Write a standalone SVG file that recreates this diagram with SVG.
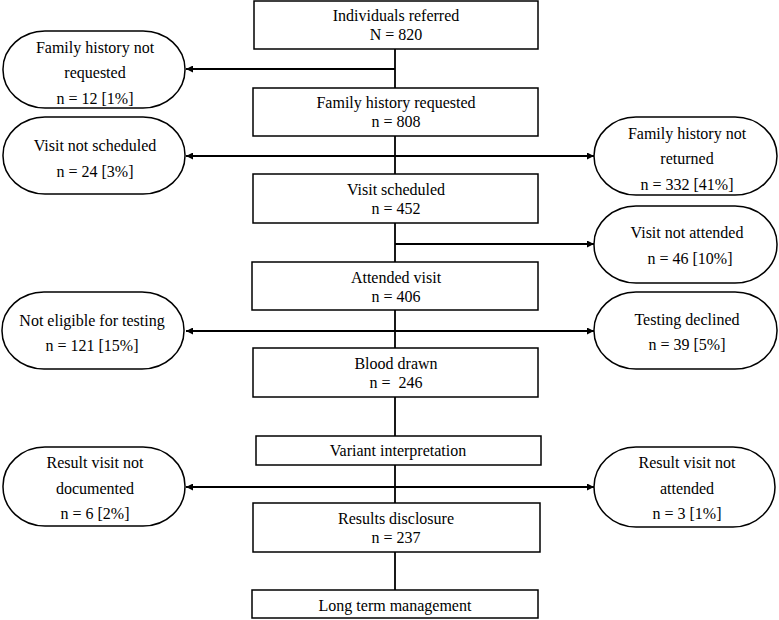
<svg xmlns="http://www.w3.org/2000/svg" width="779" height="620" viewBox="0 0 779 620">
<defs>
<marker id="ah" viewBox="0 0 10 10" refX="10" refY="5" markerWidth="7" markerHeight="7" markerUnits="userSpaceOnUse" orient="auto">
<path d="M0,0 L10,5 L0,10 z" fill="#000"/>
</marker>
<style>
.box{fill:#fff;stroke:#000;stroke-width:1.5}
.rnd{fill:#fff;stroke:#000;stroke-width:1.5}
text{font-family:'Liberation Serif','Times New Roman',serif;font-size:16px;fill:#000;text-anchor:middle}
.ln{stroke:#000;stroke-width:1.8;fill:none}
.ar{stroke:#000;stroke-width:1.8;fill:none;marker-end:url(#ah)}
</style>
</defs>
<rect width="779" height="620" fill="#fff"/>
<g id="connectors">
<line class="ln" x1="395" y1="49" x2="395" y2="590"/>
<line class="ar" x1="395" y1="69" x2="186" y2="69"/>
<line class="ar" x1="395" y1="156" x2="186" y2="156"/>
<line class="ar" x1="395" y1="156" x2="594" y2="156"/>
<line class="ar" x1="395" y1="244" x2="594" y2="244"/>
<line class="ar" x1="395" y1="331" x2="186" y2="331"/>
<line class="ar" x1="395" y1="331" x2="594" y2="331"/>
<line class="ar" x1="395" y1="487" x2="186" y2="487"/>
<line class="ar" x1="395" y1="487" x2="594" y2="487"/>
</g>
<g id="n1"><rect class="box" x="254" y="1" width="284" height="48"/><text x="396" y="21">Individuals referred</text><text x="396" y="40">N = 820</text></g>
<g id="n2"><rect class="box" x="253" y="88" width="285" height="48"/><text x="396" y="108">Family history requested</text><text x="396" y="127">n = 808</text></g>
<g id="n3"><rect class="box" x="253" y="174" width="285" height="49"/><text x="396" y="195">Visit scheduled</text><text x="396" y="214">n = 452</text></g>
<g id="n4"><rect class="box" x="252" y="262" width="286" height="48"/><text x="396" y="283">Attended visit</text><text x="396" y="302">n = 406</text></g>
<g id="n5"><rect class="box" x="253" y="348" width="285" height="49"/><text x="396" y="369">Blood drawn</text><text x="396" y="388" xml:space="preserve">n =  246</text></g>
<g id="n6"><rect class="box" x="256" y="436" width="285" height="29"/><text x="398" y="456">Variant interpretation</text></g>
<g id="n7"><rect class="box" x="253" y="503" width="287" height="49"/><text x="396" y="524">Results disclosure</text><text x="396" y="543">n = 237</text></g>
<g id="n8"><rect class="box" x="252" y="590" width="286" height="28"/><text x="395" y="611">Long term management</text></g>
<g id="e1"><rect class="rnd" x="3" y="31" width="182" height="77" rx="42" ry="38"/><text x="95" y="53">Family history not</text><text x="95" y="78">requested</text><text x="95" y="104">n = 12 [1%]</text></g>
<g id="e2"><rect class="rnd" x="3" y="117" width="182" height="77" rx="42" ry="38"/><text x="95" y="151">Visit not scheduled</text><text x="95" y="177">n = 24 [3%]</text></g>
<g id="e3"><rect class="rnd" x="594" y="117" width="183" height="78" rx="42" ry="39"/><text x="687" y="139">Family history not</text><text x="687" y="164">returned</text><text x="687" y="190">n = 332 [41%]</text></g>
<g id="e4"><rect class="rnd" x="594" y="206" width="183" height="77" rx="42" ry="38"/><text x="687" y="238">Visit not attended</text><text x="690" y="264">n = 46 [10%]</text></g>
<g id="e5"><rect class="rnd" x="2" y="292" width="182" height="77" rx="42" ry="38"/><text x="92" y="326">Not eligible for testing</text><text x="92" y="351">n = 121 [15%]</text></g>
<g id="e6"><rect class="rnd" x="594" y="292" width="183" height="77" rx="42" ry="38"/><text x="687" y="325">Testing declined</text><text x="687" y="350">n = 39 [5%]</text></g>
<g id="e7"><rect class="rnd" x="3" y="447" width="182" height="79" rx="42" ry="39"/><text x="95" y="468">Result visit not</text><text x="95" y="494">documented</text><text x="95" y="519">n = 6 [2%]</text></g>
<g id="e8"><rect class="rnd" x="594" y="447" width="181" height="80" rx="42" ry="40"/><text x="687" y="468">Result visit not</text><text x="687" y="494">attended</text><text x="687" y="519">n = 3 [1%]</text></g>
</svg>
